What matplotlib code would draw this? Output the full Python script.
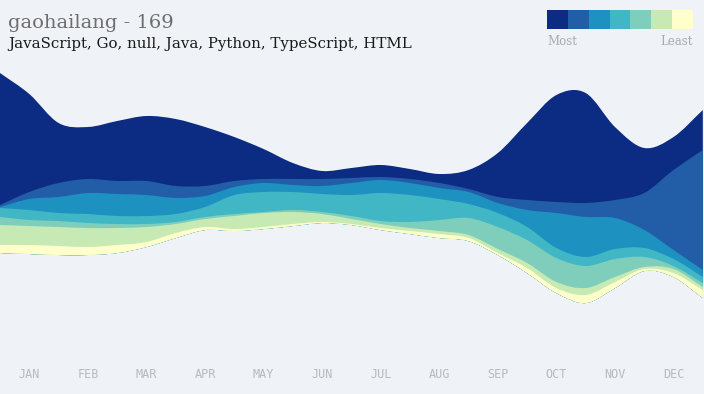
import numpy as np
import matplotlib
matplotlib.use("Agg")
import matplotlib.pyplot as plt
from matplotlib.path import Path
from matplotlib.patches import PathPatch

# ---------------- data ----------------
title = "gaohailang - 169"
languages = ["JavaScript", "Go", "null", "Java", "Python", "TypeScript", "HTML"]
months = ["JAN", "FEB", "MAR", "APR", "MAY", "JUN", "JUL", "AUG", "SEP", "OCT", "NOV", "DEC"]
x_pos = np.arange(-0.5, 12.0, 0.5)  # half-month sample positions

javascript = [132, 98, 60, 52, 60, 65, 67, 59, 44, 30, 16, 8, 10, 12, 10, 9, 19, 44, 77, 107, 110, 73, 45, 33, 40]
go         = [2, 7, 14, 14, 13, 14, 12, 10, 6, 4, 6, 7, 5, 3, 4, 5, 3, 6, 10, 11, 14, 18, 37, 80, 120]
null_lang  = [1, 11, 16, 21, 22, 21, 16, 11, 8, 9, 7, 8, 12, 13, 12, 11, 12, 10, 17, 35, 40, 31, 18, 9, 7]
java       = [9, 10, 8, 9, 8, 8, 8, 10, 19, 20, 18, 18, 21, 28, 27, 21, 14, 14, 13, 10, 9, 10, 9, 7, 6]
python     = [8, 6, 6, 5, 4, 3, 2, 2, 2, 1, 2, 2, 3, 3, 6, 11, 17, 22, 23, 24, 22, 18, 10, 3, 4]
typescript = [20, 19, 19, 19, 17, 15, 9, 8, 13, 14, 12, 8, 5, 4, 3, 3, 3, 4, 5, 6, 7, 5, 2, 4, 3]
html       = [8, 9, 9, 8, 8, 5, 5, 3, 2, 2, 2, 1, 1, 2, 3, 4, 3, 2, 5, 5, 8, 6, 2, 4, 8]
baseline   = [141, 140, 139, 139, 141, 147, 156, 164, 163, 165, 168, 171, 169, 164, 160, 156, 153, 139, 121, 101, 91, 106, 123, 117, 96]

colors = ["#0c2c84", "#225ea8", "#1d91c0", "#41b6c4", "#7fcdbb", "#c7e9b4", "#ffffcc"]
bg = "#eff2f7"

# ---------------- helpers ----------------
def bezier_segments(xs, ys):
    """Catmull-Rom spline expressed as cubic Bezier vertices (after the first point)."""
    xs = np.asarray(xs, float); ys = np.asarray(ys, float)
    n = len(xs)
    px = np.concatenate([[2 * xs[0] - xs[1]], xs, [2 * xs[-1] - xs[-2]]])
    py = np.concatenate([[2 * ys[0] - ys[1]], ys, [2 * ys[-1] - ys[-2]]])
    verts = []
    for i in range(n - 1):
        p0 = np.array([px[i], py[i]]); p1 = np.array([px[i + 1], py[i + 1]])
        p2 = np.array([px[i + 2], py[i + 2]]); p3 = np.array([px[i + 3], py[i + 3]])
        c1 = p1 + (p2 - p0) / 6.0
        c2 = p2 - (p3 - p1) / 6.0
        verts += [tuple(c1), tuple(c2), tuple(p2)]
    return verts

def band_path(xs, lo, hi):
    verts = [(xs[0], hi[0])]
    codes = [Path.MOVETO]
    seg = bezier_segments(xs, hi)
    verts += seg; codes += [Path.CURVE4] * len(seg)
    verts.append((xs[-1], lo[-1])); codes.append(Path.LINETO)
    seg = bezier_segments(xs[::-1], lo[::-1])
    verts += seg; codes += [Path.CURVE4] * len(seg)
    verts.append((xs[0], hi[0])); codes.append(Path.CLOSEPOLY)
    return Path(verts, codes)

# ---------------- figure ----------------
fig = plt.figure(figsize=(7.04, 3.94), dpi=100, facecolor=bg)
ax = fig.add_axes([0, 0, 1, 1])
ax.set_facecolor(bg)
ax.set_xlim(-0.5, 11.52)
ax.set_ylim(0, 394)
ax.axis("off")

# stack order bottom -> top: HTML ... JavaScript
series = [javascript, go, null_lang, java, python, typescript, html]
stack_bottom_up = list(reversed(series))
cols_bottom_up = list(reversed(colors))
base = np.array(baseline, float)
cum = base.copy()
tops = []
for s in stack_bottom_up:
    cum = cum + np.array(s, float)
    tops.append(cum.copy())

# draw from the top layer down so each lower band covers the seam
for k in range(len(tops) - 1, -1, -1):
    p = band_path(x_pos, base, tops[k])
    ax.add_patch(PathPatch(p, facecolor=cols_bottom_up[k], edgecolor="none", lw=0))

# month labels
for i, m in enumerate(months):
    ax.text(i, 20, m, ha="center", va="center", fontsize=8.5, color="#b8babe",
            family="DejaVu Sans Mono")

# title texts
W, H = 704.0, 394.0
fig.text(8 / W, 1 - 28 / H, title, fontsize=14, color="#6e6e6e", family="DejaVu Serif",
         va="baseline", ha="left")
fig.text(8 / W, 1 - 48 / H, ", ".join(languages), fontsize=10.8, color="#1a1a1a",
         family="DejaVu Serif", va="baseline", ha="left")

# legend
lx0, ly0, lw, lh = 547, 10, 146, 19
lax = fig.add_axes([lx0 / W, 1 - (ly0 + lh) / H, lw / W, lh / H])
lax.set_xlim(0, len(colors)); lax.set_ylim(0, 1); lax.axis("off")
lax.bar(np.arange(len(colors)) + 0.5, [1] * len(colors), width=1.0, color=colors, edgecolor="none")
fig.text(lx0 / W, 1 - 45 / H, "Most", fontsize=8.5, color="#a9abaf", family="DejaVu Serif",
         va="baseline", ha="left")
fig.text((lx0 + lw) / W, 1 - 45 / H, "Least", fontsize=8.5, color="#a9abaf",
         family="DejaVu Serif", va="baseline", ha="right")

fig.savefig("out.png", dpi=100, facecolor=bg)
